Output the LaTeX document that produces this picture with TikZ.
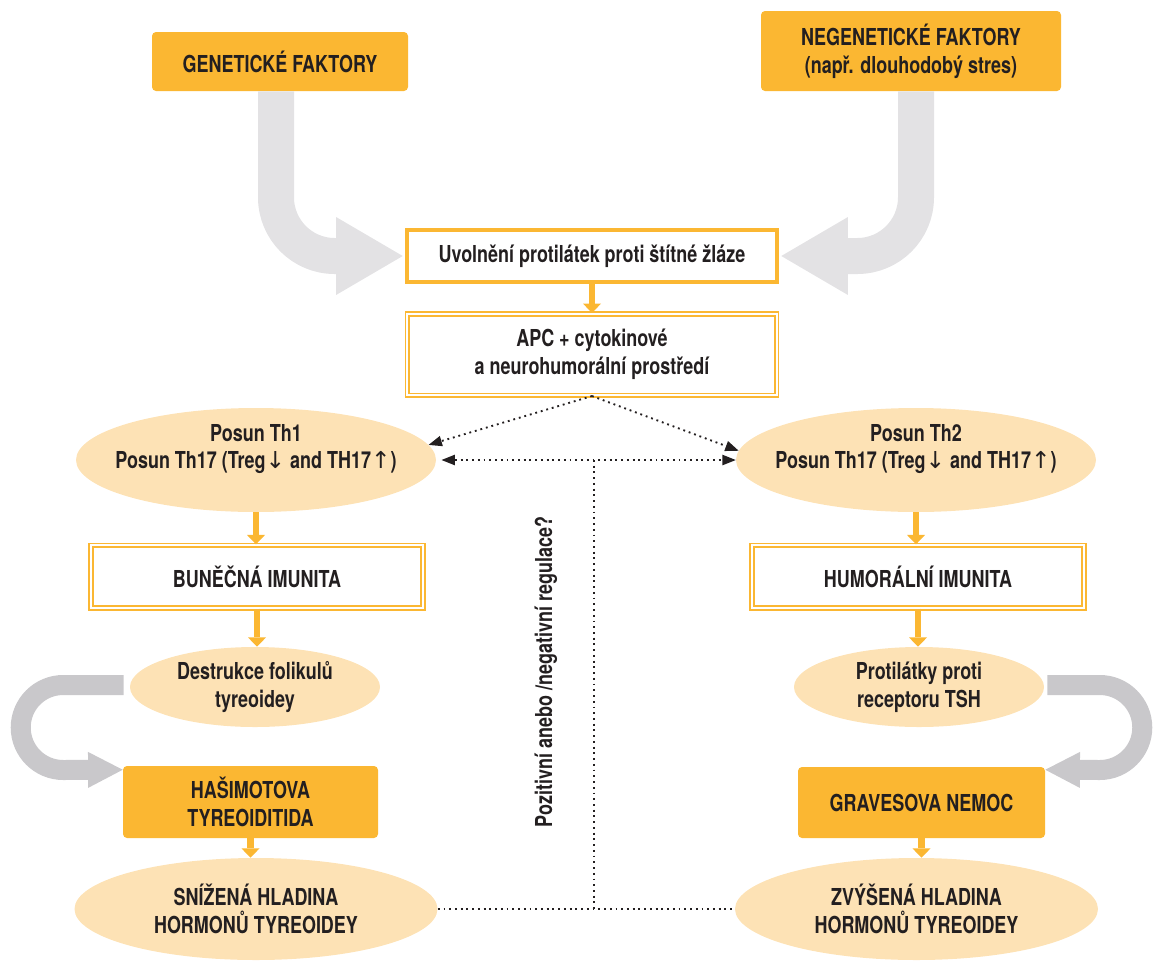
\documentclass[tikz,border=0pt]{standalone}
\usepackage{fontspec}
\setmainfont{TeX Gyre Heros}[FakeStretch=0.77]
\newfontfamily\arrowfont{DejaVu Sans}
\usetikzlibrary{arrows.meta,calc,shapes.geometric}

\definecolor{boxorange}{RGB}{251,183,50}
\definecolor{lightorange}{RGB}{253,226,181}
\definecolor{lightgrey}{RGB}{227,226,228}
\definecolor{midgrey}{RGB}{201,200,203}
\definecolor{darktext}{RGB}{35,31,32}

\begin{document}
\begin{tikzpicture}[x=0.75pt,y=0.75pt,yscale=-1,xscale=1,
  every node/.style={font=\fontsize{17.5}{20.8}\selectfont\bfseries, text=darktext, align=center, inner sep=0.75pt},
  factor/.style={rectangle, rounded corners=3pt, fill=boxorange},
  framebox/.style={rectangle, draw=boxorange, line width=3.4pt, fill=white},
  dblbox/.style={rectangle, draw=boxorange, double=white, double distance=1.4pt, line width=1.3pt},
  blob/.style={ellipse, fill=lightorange, inner sep=0pt},
  bigarrow/.style={draw=lightgrey, line width=27pt, rounded corners=44pt, -{Triangle[length=50pt,width=58.5pt,line width=0pt]}},
  looparrow/.style={draw=midgrey, line width=15pt, -{Triangle[length=26pt,width=27pt,line width=0pt]}},
  flow/.style={draw=boxorange, line width=5pt, -{Triangle[length=7pt,width=13.5pt,line width=0pt]}},
  dots/.style={draw=darktext, line width=1.4pt, dash pattern=on 1.4pt off 2.9pt},
  dottip/.tip={Triangle[length=10pt,width=8pt,line width=0pt]},
]
\useasboundingbox (0,0) rectangle (1154,961);

%Shape: Rectangle
\node[factor, minimum width=192pt, minimum height=44.25pt] (gen) at (280,61.5) {GENETICKÉ FAKTORY};
%Shape: Rectangle
\node[factor, minimum width=225pt, minimum height=60pt] (negen) at (911,51) {NEGENETICKÉ FAKTORY\\(např. dlouhodobý stres)};
%Shape: Rectangle
\node[framebox, minimum width=277.5pt, minimum height=39pt] (uvol) at (592,256) {Uvolnění protilátek proti štítné žláze};
%Shape: Rectangle
\node[dblbox, minimum width=277pt, minimum height=61pt] (apc) at (592,354.5) {APC + cytokinové\\a neurohumorální prostředí};

%Shape: Ellipse
\node[blob, minimum width=270pt, minimum height=78pt] (th1) at (256,460) {};
\node (th1text) at (256,449) {Posun Th1\\Posun Th17 (Treg{\arrowfont\mdseries ↓} and TH17{\arrowfont\mdseries ↑})};
%Shape: Ellipse
\node[blob, minimum width=270pt, minimum height=78pt] (th2) at (916,460) {};
\node (th2text) at (916,449) {Posun Th2\\Posun Th17 (Treg{\arrowfont\mdseries ↓} and TH17{\arrowfont\mdseries ↑})};

%Shape: Rectangle
\node[dblbox, minimum width=249pt, minimum height=47pt] (bun) at (257,576.5) {BUNĚČNÁ IMUNITA};
\node[dblbox, minimum width=249pt, minimum height=47pt] (hum) at (918,576.5) {HUMORÁLNÍ IMUNITA};

%Shape: Ellipse
\node[blob, minimum width=187.5pt, minimum height=60pt] (destr) at (255,687) {Destrukce folikulů\\tyreoidey};
\node[blob, minimum width=187.5pt, minimum height=60pt] (prot) at (919,687) {Protilátky proti\\receptoru TSH};

%Shape: Rectangle
\node[factor, minimum width=191.25pt, minimum height=54pt] (hasi) at (250.5,802) {HAŠIMOTOVA\\TYREOIDITIDA};
\node[factor, minimum width=185.25pt, minimum height=53.25pt] (grav) at (921.5,802.5) {GRAVESOVA NEMOC};

%Shape: Ellipse
\node[blob, minimum width=272.25pt, minimum height=76.5pt] (sniz) at (256,909) {SNÍŽENÁ HLADINA\\HORMONŮ TYREOIDEY};
\node[blob, minimum width=272.25pt, minimum height=76.5pt] (zvys) at (916.5,909) {ZVÝŠENÁ HLADINA\\HORMONŮ TYREOIDEY};

% Text Node
\node[rotate=90] (reg) at (546,672) {Pozitivní anebo /negativní regulace?};

%Curve Lines
\draw[bigarrow] ($(gen.south)+(-4,0)$) |- ($(uvol.west)+(-2,0)$);
\draw[bigarrow] ($(negen.south)+(5,0)$) |- ($(uvol.east)+(2,0)$);
%Curve Lines
\draw[looparrow] ($(destr.west)+(-6,-2)$) -- ++(-60.5,0) arc[start angle=270,end angle=90,radius=42.5] -- ($(hasi.north west)+(0,4)$);
\draw[looparrow] ($(prot.east)+(3,-2)$) -- ++(52.5,0) arc[start angle=270,end angle=450,radius=42.5] -- ($(grav.north east)+(0,3)$);

%Straight Lines
\draw[flow] (uvol.south) -- (apc.north);
\draw[flow] (th1.south) -- (th1.south |- bun.north);
\draw[flow] (bun.south) -- (bun.south |- destr.north);
\draw[flow] (hasi.south) -- (hasi.south |- sniz.north);
\draw[flow] (th2.south) -- (th2.south |- hum.north);
\draw[flow] (hum.south) -- (hum.south |- prot.north);
\draw[flow] (grav.south) -- (grav.south |- zvys.north);

%Straight Lines
\coordinate (regtop) at (594,460);
\draw[dots, -dottip] (apc.south) -- (th1.5);
\draw[dots, -dottip] (apc.south) -- (th2.177);
\draw[dots, dottip-dottip, shorten <=4pt] (th1.east) -- (th2.west);
\draw[dots] (regtop) -- (regtop |- sniz.east);
\draw[dots] (sniz.east) -- (zvys.west);

\end{tikzpicture}
\end{document}
